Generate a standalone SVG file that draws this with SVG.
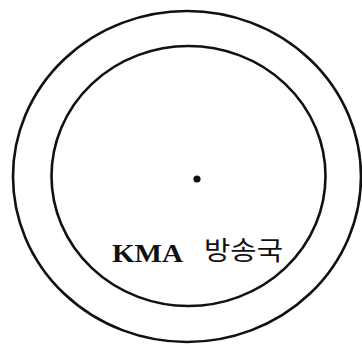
<svg xmlns="http://www.w3.org/2000/svg" width="362" height="345" viewBox="0 0 362 345">
<style>
.ring{fill:none;stroke:#111;stroke-width:2.6}
.lat{font-family:"Liberation Serif",serif;font-weight:bold;font-size:26px;fill:#111}
.kor{font-family:"Noto Sans CJK KR",sans-serif;font-size:26px;fill:#111}
</style>
<rect width="362" height="345" fill="#fff"/>
<g id="outer"><ellipse class="ring" cx="187" cy="176.5" rx="174" ry="165.5"/></g>
<g id="inner"><ellipse class="ring" cx="188.5" cy="176" rx="137" ry="130"/></g>
<g id="station">
<circle cx="197" cy="179" r="3.6" fill="#111"/>
<text class="lat" x="112" y="262" textLength="71" lengthAdjust="spacingAndGlyphs">KMA</text>
<text class="kor" x="204" y="260" textLength="79" lengthAdjust="spacingAndGlyphs">방송국</text>
</g>
</svg>
